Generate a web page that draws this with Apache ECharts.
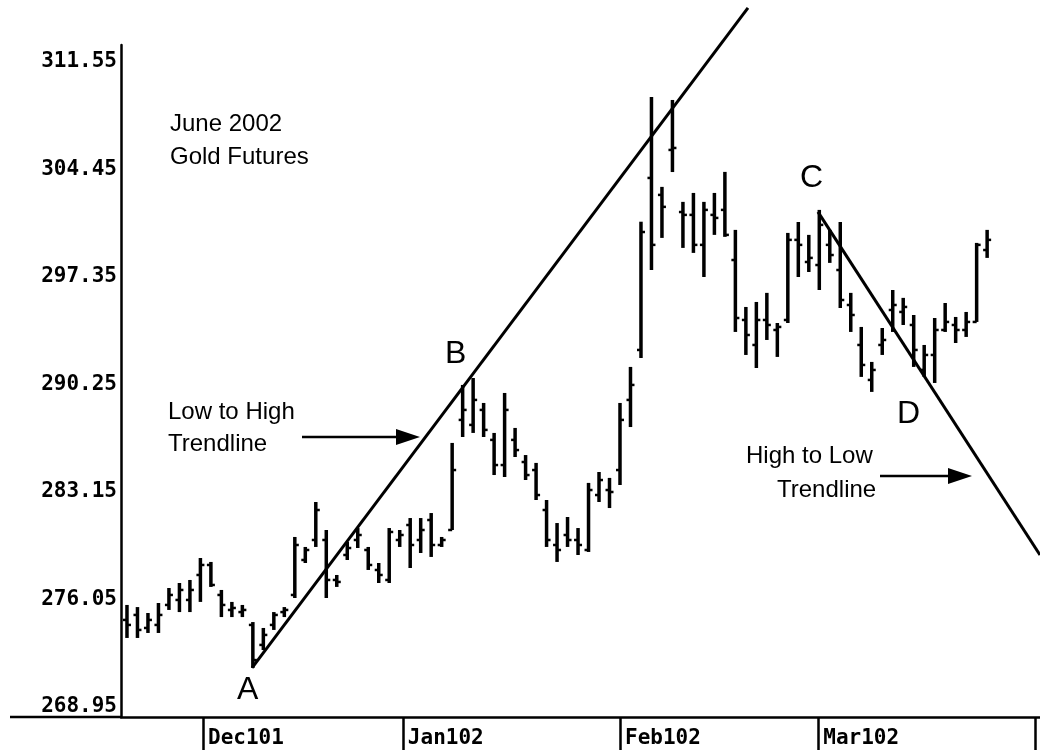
<!DOCTYPE html>
<html>
<head>
<meta charset="utf-8">
<title>June 2002 Gold Futures</title>
<script src="https://cdn.jsdelivr.net/npm/echarts@6/dist/echarts.min.js"></script>
<style>
  html, body { margin: 0; padding: 0; background: #fff; }
  #chart { width: 1040px; height: 755px; }
</style>
</head>
<body>
<div id="chart"></div>
<script>
// daily bars, left to right (late Nov 2001 - Mar 2002)
const opens = [274.70, 275.03, 274.17, 274.37, 275.69, 276.02, 276.02, 277.67, 278.33, 276.35,
  275.36, 275.22, 274.37, 273.05, 274.37, 275.22, 276.35, 278.66, 279.98, 279.98,
  277.34, 278.99, 279.98, 279.32, 278.00, 277.34, 279.98, 280.97, 279.98, 281.30,
  279.65, 280.64, 287.91, 287.58, 288.57, 286.59, 284.93, 286.59, 285.13, 284.60,
  281.96, 279.65, 280.31, 279.98, 279.32, 282.95, 283.28, 284.60, 289.23, 292.53,
  303.89, 302.77, 305.74, 301.64, 301.45, 299.47, 301.45, 301.78, 298.47, 294.51,
  292.86, 294.51, 293.85, 294.51, 299.80, 298.34, 298.14, 299.47, 297.81, 295.50,
  292.86, 290.55, 292.86, 295.17, 295.04, 294.18, 291.21, 292.20, 293.85, 294.18,
  293.85, 294.38, 299.13];
const highs = [275.69, 275.55, 275.16, 275.82, 276.81, 277.14, 277.34, 278.79, 278.53, 276.68,
  275.89, 275.69, 274.56, 274.17, 275.22, 275.55, 280.18, 279.52, 282.49, 280.64,
  277.67, 279.85, 280.77, 279.52, 278.46, 280.77, 280.64, 281.43, 281.43, 281.76,
  280.18, 286.39, 290.22, 290.68, 289.03, 287.05, 289.69, 287.38, 285.59, 285.07,
  282.62, 281.10, 281.50, 280.77, 283.75, 284.47, 284.08, 289.03, 291.41, 301.00,
  309.24, 303.30, 309.04, 302.31, 302.90, 302.31, 302.90, 304.29, 300.46, 295.37,
  295.70, 296.30, 294.31, 300.26, 300.98, 300.13, 301.78, 300.46, 300.98, 296.30,
  294.05, 291.74, 293.98, 296.49, 295.97, 294.84, 292.86, 294.64, 295.63, 294.71,
  295.04, 299.60, 300.46];
const lows = [273.51, 273.51, 273.84, 273.84, 275.36, 275.22, 275.22, 275.89, 276.88, 274.89,
  274.89, 274.89, 271.53, 272.71, 274.04, 274.89, 276.15, 278.46, 279.52, 276.15,
  276.88, 278.66, 279.45, 278.00, 277.14, 277.14, 279.52, 278.13, 279.12, 278.86,
  279.52, 280.64, 286.78, 287.05, 286.78, 284.27, 284.14, 285.46, 283.94, 282.62,
  279.52, 278.53, 279.52, 278.99, 279.19, 282.49, 282.09, 283.61, 287.44, 292.00,
  297.81, 299.93, 304.28, 299.27, 298.94, 297.35, 300.13, 300.00, 293.72, 292.20,
  291.34, 293.19, 292.07, 294.31, 297.35, 297.68, 296.49, 298.28, 295.30, 293.72,
  290.75, 289.76, 292.20, 293.72, 294.18, 291.41, 290.75, 290.35, 293.72, 292.99,
  293.39, 294.38, 298.61];
const closes = [274.37, 274.04, 274.70, 275.03, 276.35, 276.68, 276.68, 278.33, 277.01, 275.69,
  275.49, 275.36, 272.05, 273.71, 275.03, 275.36, 279.65, 279.32, 281.96, 277.34,
  277.21, 279.45, 280.31, 278.33, 277.67, 280.51, 280.31, 279.65, 280.64, 279.65,
  279.98, 284.60, 288.57, 289.23, 287.25, 284.93, 288.57, 285.92, 284.27, 282.95,
  279.98, 279.32, 279.98, 279.65, 283.28, 283.94, 283.15, 287.91, 290.22, 300.32,
  299.47, 301.98, 305.87, 301.45, 299.47, 301.78, 301.25, 300.13, 294.64, 293.52,
  294.51, 294.18, 294.05, 299.80, 299.47, 298.61, 300.79, 298.80, 295.83, 294.84,
  291.54, 291.21, 293.19, 295.50, 295.37, 292.53, 292.20, 293.85, 294.38, 293.85,
  294.38, 299.47, 299.80];

const yTicks = [268.95, 276.05, 283.15, 290.25, 297.35, 304.45, 311.55];
const monthTicks = [7.25, 26.3, 47.0, 65.9, 86.6];
const monthLabels = ["Dec101", "Jan102", "Feb102", "Mar102", ""];

// trendlines as [bar index, price]
const upTrend = [[11.92, 271.53], [59.2, 315.12]];
const downTrend = [[65.87, 301.65], [87.04, 278.99]];

const axisFont = { fontFamily: "DejaVu Sans Mono", fontWeight: "bold", fontSize: 21, color: "#000" };
const noteFont = "24px 'Liberation Sans', Arial, sans-serif";
const letterFont = "32px 'Liberation Sans', Arial, sans-serif";

const bars = opens.map((o, i) => [i, o, highs[i], lows[i], closes[i]]);

function renderOhlc(params, api) {
  const x = api.value(0);
  const pO = api.coord([x, api.value(1)]);
  const pH = api.coord([x, api.value(2)]);
  const pL = api.coord([x, api.value(3)]);
  const pC = api.coord([x, api.value(4)]);
  return {
    type: "group",
    children: [
      { type: "line", shape: { x1: pH[0], y1: pH[1], x2: pL[0], y2: pL[1] }, style: { stroke: "#000", lineWidth: 3.5 } },
      { type: "line", shape: { x1: pO[0] - 4, y1: pO[1], x2: pO[0], y2: pO[1] }, style: { stroke: "#000", lineWidth: 2.5 } },
      { type: "line", shape: { x1: pC[0], y1: pC[1], x2: pC[0] + 4, y2: pC[1] }, style: { stroke: "#000", lineWidth: 2.5 } }
    ]
  };
}

function note(text, x, y, font) {
  return { type: "text", x: x, y: y, style: { text: text, font: font || noteFont, fill: "#000", verticalAlign: "middle" } };
}

function arrow(x1, x2, y) {
  return [
    { type: "line", shape: { x1: x1, y1: y, x2: x2 - 20, y2: y }, style: { stroke: "#000", lineWidth: 2.5 } },
    { type: "polygon", shape: { points: [[x2 - 24, y - 8], [x2, y], [x2 - 24, y + 8]] }, style: { fill: "#000" } }
  ];
}

const chart = echarts.init(document.getElementById("chart"));
chart.setOption({
  animation: false,
  backgroundColor: "#fff",
  grid: { left: 121, right: 0, top: 45, bottom: 38 },
  xAxis: {
    type: "value",
    min: -0.57,
    max: 87.04,
    splitLine: { show: false },
    axisLine: { onZero: false, lineStyle: { color: "#000", width: 2.5 } },
    axisTick: { customValues: monthTicks, length: 33, lineStyle: { color: "#000", width: 2.5 } },
    axisLabel: {
      customValues: monthTicks,
      formatter: v => monthLabels[monthTicks.indexOf(v)] || "",
      align: "left",
      padding: [0, 0, 0, 5],
      margin: 11,
      ...axisFont
    }
  },
  yAxis: {
    type: "value",
    min: 268.29,
    max: 312.67,
    splitLine: { show: false },
    axisLine: { show: true, onZero: false, lineStyle: { color: "#000", width: 2.5 } },
    axisTick: { show: false },
    axisLabel: {
      customValues: yTicks,
      formatter: v => v.toFixed(2),
      margin: 4,
      ...axisFont
    }
  },
  series: [
    {
      type: "custom",
      renderItem: renderOhlc,
      encode: { x: 0, y: [1, 2, 3, 4] },
      data: bars
    },
    {
      type: "line",
      data: upTrend,
      symbol: "none",
      clip: false,
      lineStyle: { color: "#000", width: 3 }
    },
    {
      type: "line",
      data: downTrend,
      symbol: "none",
      clip: false,
      lineStyle: { color: "#000", width: 3 }
    }
  ],
  graphic: [
    // x axis line carries on left of the price axis
    { type: "line", shape: { x1: 10, y1: 717, x2: 121, y2: 717 }, style: { stroke: "#000", lineWidth: 2.5 } },
    note("June 2002", 170, 124),
    note("Gold Futures", 170, 157),
    note("Low to High", 168, 412),
    note("Trendline", 168, 444),
    note("High to Low", 746, 456),
    note("Trendline", 777, 490),
    note("A", 237, 690, letterFont),
    note("B", 445, 354, letterFont),
    note("C", 800, 178, letterFont),
    note("D", 897, 414, letterFont),
    ...arrow(302, 420, 437),
    ...arrow(880, 972, 476)
  ]
});
</script>
</body>
</html>
